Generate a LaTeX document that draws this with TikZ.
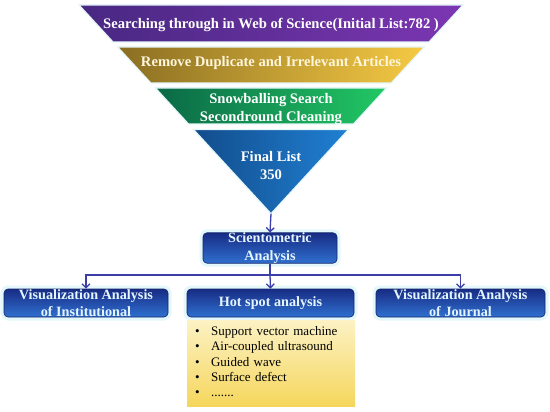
\documentclass[tikz,border=0pt]{standalone}
\usepackage{fontspec}
\setmainfont{Liberation Serif}
\usepackage{tikz}
\usetikzlibrary{arrows.meta,positioning}

\definecolor{glow}{HTML}{E4F7FB}
\definecolor{arrowblue}{HTML}{3B3DA8}
\definecolor{boxtop}{HTML}{182C84}
\definecolor{boxbot}{HTML}{2F70D0}
\definecolor{boxtext}{HTML}{E4F5FF}

\begin{document}
\begin{tikzpicture}[
  x=1pt, y=-1pt,
  band/.style={draw=glow, line width=1.2pt},
  bandtext/.style={font=\fontsize{14.6}{17.5}\selectfont\bfseries, align=center, inner sep=0pt},
  box/.style={draw=boxtop!80!black, line width=0.6pt, rounded corners=4pt, top color=boxtop, bottom color=boxbot,
    minimum height=28pt, inner sep=0pt, align=center, text=boxtext,
    font=\fontsize{14.2}{17.5}\selectfont\bfseries, preaction={draw=glow, line width=7pt}},
  arr/.style={-{Straight Barb[length=4pt,width=8pt]}, line width=1.3pt, draw=arrowblue},
  line/.style={line width=1.3pt, draw=arrowblue}
]
  \useasboundingbox (0,0) rectangle (550,412);

  % funnel
  \shade[band, left color={rgb,255:red,72;green,40;blue,130}, right color={rgb,255:red,124;green,54;blue,178}]
    (79,5) -- (463,5) -- (429,42) -- (113,42) -- cycle;
  \shade[band, left color={rgb,255:red,138;green,110;blue,34}, right color={rgb,255:red,246;green,202;blue,68}]
    (117.6,47) -- (424.4,47) -- (391.2,83) -- (150.8,83) -- cycle;
  \shade[band, left color={rgb,255:red,10;green,104;blue,70}, right color={rgb,255:red,34;green,200;blue,100}]
    (155.4,88) -- (386.6,88) -- (353.5,124) -- (188.5,124) -- cycle;
  \shade[band, left color={rgb,255:red,18;green,76;blue,140}, right color={rgb,255:red,32;green,128;blue,210}]
    (193.5,129.5) -- (348.5,129.5) -- (271,213.7) -- cycle;
  \coordinate (tip) at (271,213.7);

  \node[bandtext, text=white] (search) at (271,24.5) {Searching through in Web of Science(Initial List:782 )};
  \node[bandtext, text={rgb,255:red,255;green,246;blue,220}] (remove) at (271,63) {Remove Duplicate and Irrelevant Articles};
  \node[bandtext, text=white] (snow) at (271,109) {Snowballing Search\\Secondround Cleaning};
  \node[bandtext, text=white] (final) at (271,165.5) {Final List\\350};

  % analysis boxes
  \node[box, minimum width=134pt] (sci) at (270,248) {Scientometric\\Analysis};
  \node[box, minimum width=164pt] (inst) at (86,303) {Visualization Analysis\\of Institutional};
  \node[box, minimum width=167pt] (hot) at (270.5,303) {Hot spot analysis};
  \node[box, minimum width=169pt] (jour) at (460.5,303) {Visualization Analysis\\of Journal};

  \node[anchor=north, minimum width=168pt, minimum height=86pt, inner xsep=8pt, inner ysep=0pt, text width=152pt,
    top color={rgb,255:red,252;green,242;blue,196}, bottom color={rgb,255:red,245;green,214;blue,92},
    font=\fontsize{13}{15.3}\selectfont, align=left] (topics) at (271,320)
    {\begin{tabular}{@{}l@{\hspace{11.5pt}}l@{}}
      \textbullet & Support vector machine\\
      \textbullet & Air-coupled ultrasound\\
      \textbullet & Guided wave\\
      \textbullet & Surface defect\\
      \textbullet & .......
    \end{tabular}};

  \coordinate (split) at (270,275);
  \draw[arr] (tip) -- (sci.north);
  \draw[line] (sci.south) -- (split);
  \draw[arr] (split) -| (inst.north);
  \draw[arr] (split) -| (jour.north);
  \draw[arr] (split) -- (hot.north);
\end{tikzpicture}
\end{document}
